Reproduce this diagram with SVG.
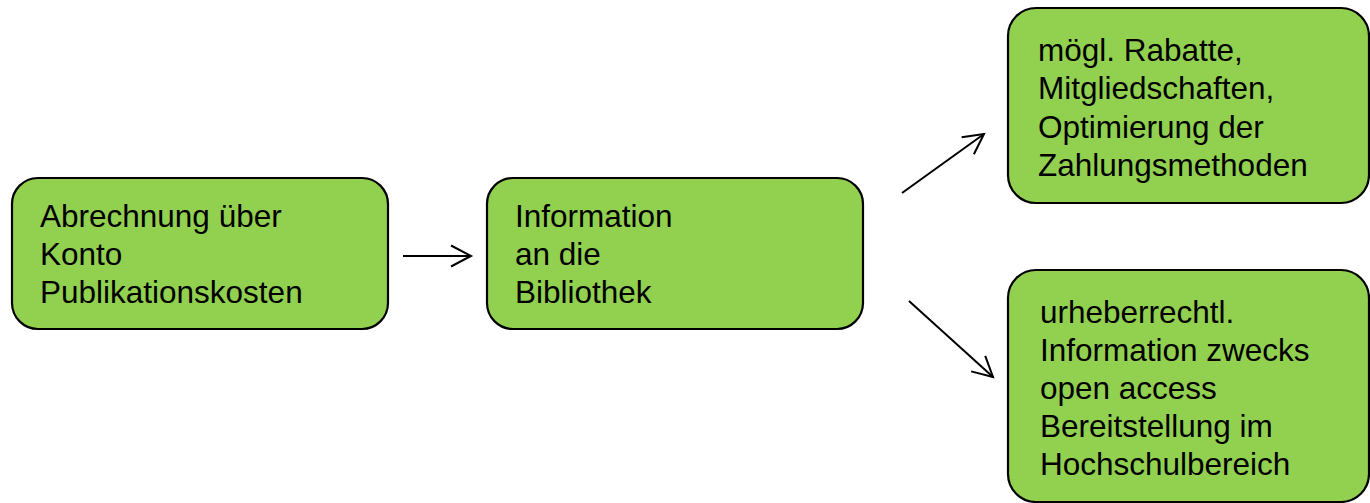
<svg xmlns="http://www.w3.org/2000/svg" width="1370" height="503" viewBox="0 0 1370 503">
<style>
.box{fill:#92D050;stroke:#000;stroke-width:2.2}
.t{font-family:"Liberation Sans",Arial,sans-serif;font-size:31.5px;fill:#000}
.c{stroke:#000;stroke-width:2;fill:none}
</style>
<defs>
<marker id="ah" markerWidth="24" markerHeight="24" refX="21" refY="12" orient="auto" markerUnits="userSpaceOnUse">
<path d="M1,1.5 L21,12 L1,22.5" fill="none" stroke="#000" stroke-width="2"/>
</marker>
</defs>
<rect width="1370" height="503" fill="#fff"/>
<g id="node1">
<rect class="box" x="12" y="178" width="376" height="151" rx="26"/>
<text class="t" x="40" y="227">Abrechnung über</text>
<text class="t" x="40" y="265">Konto</text>
<text class="t" x="40" y="303">Publikationskosten</text>
</g>
<g id="node2">
<rect class="box" x="487" y="178" width="376" height="151" rx="26"/>
<text class="t" x="515" y="227">Information</text>
<text class="t" x="515" y="265">an die</text>
<text class="t" x="515" y="303">Bibliothek</text>
</g>
<g id="node3">
<rect class="box" x="1008" y="8" width="361" height="195" rx="28"/>
<text class="t" x="1038" y="61">mögl. Rabatte,</text>
<text class="t" x="1038" y="99">Mitgliedschaften,</text>
<text class="t" x="1038" y="138">Optimierung der</text>
<text class="t" x="1038" y="176">Zahlungsmethoden</text>
</g>
<g id="node4">
<rect class="box" x="1008" y="270" width="361" height="232" rx="28"/>
<text class="t" x="1040" y="323">urheberrechtl.</text>
<text class="t" x="1040" y="361">Information zwecks</text>
<text class="t" x="1040" y="399">open access</text>
<text class="t" x="1040" y="437">Bereitstellung im</text>
<text class="t" x="1040" y="475">Hochschulbereich</text>
</g>
<g id="connectors">
<line class="c" x1="403" y1="256" x2="471" y2="256" marker-end="url(#ah)"/>
<line class="c" x1="902" y1="193" x2="984" y2="134" marker-end="url(#ah)"/>
<line class="c" x1="909" y1="301" x2="993" y2="377" marker-end="url(#ah)"/>
</g>
</svg>
